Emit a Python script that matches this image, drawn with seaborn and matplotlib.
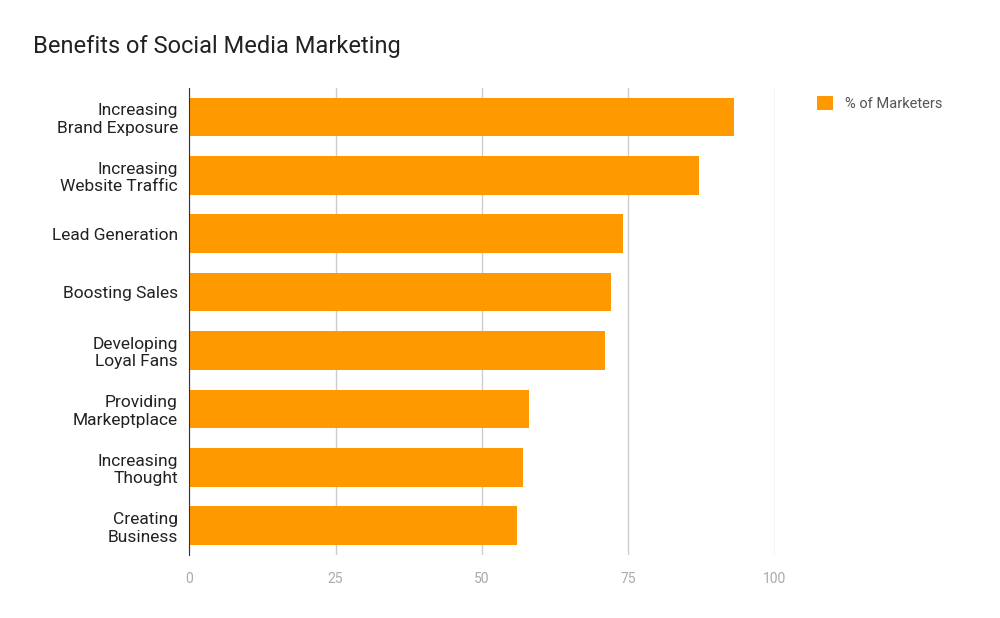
import matplotlib
matplotlib.use("Agg")
import matplotlib.pyplot as plt
import seaborn as sns
import pandas as pd

categories = ["Increasing\nBrand Exposure", "Increasing\nWebsite Traffic", "Lead Generation",
              "Boosting Sales", "Developing\nLoyal Fans", "Providing\nMarkeptplace",
              "Increasing\nThought", "Creating\nBusiness"]
values = [93, 87, 74, 72, 71, 58, 57, 56]
ticks = [0, 25, 50, 75, 100]

df = pd.DataFrame({"Benefit": categories, "% of Marketers": values})

plt.rcParams["font.family"] = "Roboto"
fig = plt.figure(figsize=(10, 6.18), dpi=100)
ax = fig.add_axes([0.189, 0.102, 0.586, 0.756])

sns.barplot(data=df, x="% of Marketers", y="Benefit", color="#ff9900",
            width=0.66, saturation=1, ax=ax, label="% of Marketers")

ax.set_xlim(0, 100)
ax.set_xticks(ticks)
ax.set_xticklabels([str(t) for t in ticks], color="#aaaaaa", fontsize=10)
ax.tick_params(axis="y", labelsize=12.5, colors="#222222", length=0, pad=8)
ax.tick_params(axis="x", length=0, pad=12)
ax.xaxis.grid(True, color="#cccccc", linewidth=1)
ax.set_axisbelow(True)
for s in ["top", "right", "bottom"]:
    ax.spines[s].set_visible(False)
ax.spines["left"].set_color("#333333")
ax.set_xlabel("")
ax.set_ylabel("")

fig.text(0.033, 0.915, "Benefits of Social Media Marketing", fontsize=17, color="#222222")
leg = ax.legend(loc="upper left", bbox_to_anchor=(1.05, 1.01), frameon=False,
                fontsize=10.5, handlelength=1.1, handleheight=1.1)
for t in leg.get_texts():
    t.set_color("#555555")

fig.savefig("out.png", dpi=100, facecolor="white")
